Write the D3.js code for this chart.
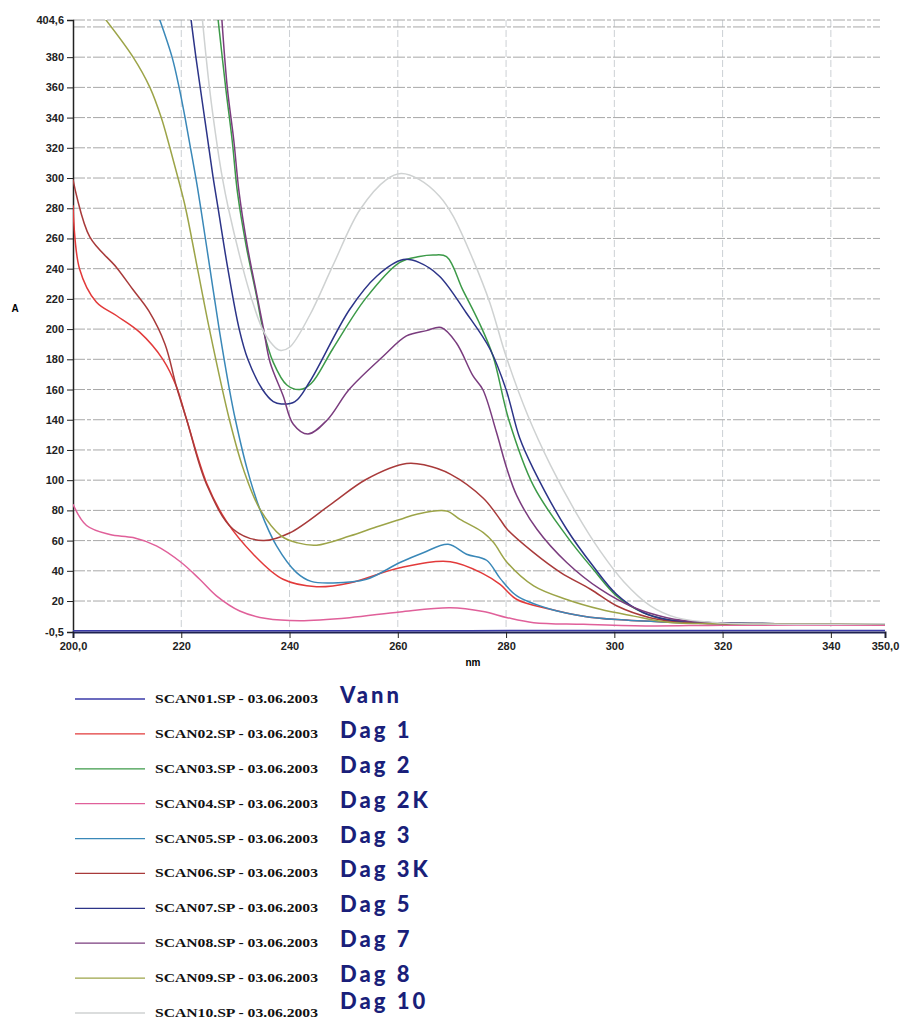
<!DOCTYPE html>
<html>
<head>
<meta charset="utf-8">
<script src="https://cdn.jsdelivr.net/npm/d3@7"></script>
<style>
  body { margin: 0; background: #fff; }
  svg { display: block; }
</style>
</head>
<body>
<script>
// spectra, [nm, A]
var vann  = [[200,0.3],[250,0.3],[300,0.5],[350,0.5]]
var dag1  = [[200,282],[201.2,240],[204.3,218],[208,209],[212.3,198],[216.6,180],[219.1,162],[221,140],[224.7,98],[228.3,73],[233.3,51],[238.8,34.4],[245,29.5],[251.1,32],[260.4,42],[269.7,46],[275.8,38],[278.9,31],[282,21],[288.2,14.6],[294.3,10],[300.5,7.7],[310,6],[320,5],[350,5]]
var dag2  = [[226.8,405],[228.2,360],[229.4,325],[230.4,290],[232,255],[233.9,222],[235.1,200],[237,178],[239.5,163],[241.9,160],[244,164],[248,187],[254,220],[260.3,244],[264,248],[266.5,249],[269,248],[272,226],[275,204.5],[277.6,182],[280.5,140],[285.1,96],[291.2,63],[296.1,41],[300.4,23.4],[305.3,12.4],[309.7,7.7],[316,6],[330,5],[350,5]]
var dag2k = [[200,84],[202.5,70],[206.8,64],[211.1,62],[215.4,56.5],[220,45.5],[223.4,34.4],[226.5,23.4],[230.8,13.4],[235.7,8.4],[241.9,7],[251.1,9],[260.4,12.8],[269.7,15.5],[275.8,13],[280.2,9],[285.1,5.7],[294.3,4.6],[306.6,3.5],[320,4],[350,4]]
var dag3  = [[216,405],[218.3,380],[219.6,360],[220.7,340],[221.7,320],[222.7,300],[223.6,280],[225.3,240],[227,200],[228.9,160],[230,140],[232.2,107],[234.6,80],[237.6,56.5],[241.3,38.8],[244,33],[248,32],[254.2,34.4],[260.4,45.5],[264.7,52],[269.3,57.6],[272.7,51],[276.4,47],[278.9,35],[282,23.4],[288.2,14.6],[294.3,10],[300.5,7.7],[310,6],[320,5],[350,5]]
var dag3k = [[200,299],[203.1,261],[208,241],[211.1,226],[214,212],[217,190],[219.1,162],[221,140],[224.7,97],[229.6,67.5],[235.1,60],[240,65],[248,85],[254.2,100.6],[261.6,111],[265,110],[269.7,104],[275.8,88],[278.9,74],[280.2,67.5],[285.1,52],[290.1,38.8],[295.6,27.8],[300.5,16.7],[306.6,9],[312.8,6],[320,5],[350,5]]
var dag5  = [[221.8,405],[222.7,380],[223.5,360],[224.3,340],[225.1,320],[225.9,300],[226.8,280],[228.6,240],[230.7,200],[232.3,180],[235,160],[237,152],[238.5,150.4],[241,152],[243.7,165],[251.1,213],[256.1,235],[261,246],[264,244],[267.7,235],[272.6,211],[277,187],[280,160],[282.5,128],[285.1,107],[291.2,67.5],[296.1,43],[300.4,24.5],[305.3,12.4],[309.7,7.7],[316,6],[330,5],[350,5]]
var dag7  = [[227.5,405],[228.5,360],[229.7,325],[230.7,290],[232.2,255],[234,222],[235.2,200],[236.4,178],[238.8,156],[240.7,137],[243.4,130.5],[247,140],[251,160],[257.3,182],[261.6,195.5],[265.3,199],[268,201],[270.8,191],[273.9,169],[275.7,160],[278.2,132],[280.2,107],[282,89.6],[285.7,67.5],[291.2,45.5],[297.4,27.8],[303.6,15.7],[309.7,9],[316,6],[330,5],[350,5]]
var dag8  = [[206,405],[211.1,380],[214.2,360],[216.3,340],[217.9,320],[219.4,300],[220.8,280],[223,240],[225.2,200],[228.9,140],[231.5,107],[234.5,81],[238.5,63],[241.5,58.5],[245,57],[251.1,63],[256,69],[260.4,74],[263.5,77.5],[269,79.6],[271.5,74],[275.8,65.3],[277.7,58.7],[280.2,45.5],[285.1,30],[291.2,21],[297.4,14.5],[303.6,10],[309.8,6],[320,5],[350,5]]
var dag10 = [[223.9,405],[225.2,360],[226.7,320],[227.6,300],[228.7,280],[231.4,240],[233,220],[235,200],[236.8,190],[238.2,186],[240,188],[243.7,209],[248,242],[253,279],[257.9,299],[260.6,303],[264,299],[267.7,288],[270.2,275],[273.9,246],[277,217.5],[280,182],[284,143],[288.2,110],[293,78],[297.4,53],[301.7,33],[306.6,17],[311.5,9],[320,5.5],[350,5]]

var scanNames = ["SCAN01.SP - 03.06.2003","SCAN02.SP - 03.06.2003","SCAN03.SP - 03.06.2003","SCAN04.SP - 03.06.2003","SCAN05.SP - 03.06.2003","SCAN06.SP - 03.06.2003","SCAN07.SP - 03.06.2003","SCAN08.SP - 03.06.2003","SCAN09.SP - 03.06.2003","SCAN10.SP - 03.06.2003"]
var notes = ["Vann","Dag 1","Dag 2","Dag 2K","Dag 3","Dag 3K","Dag 5","Dag 7","Dag 8","Dag 10"]
var palette = ["#3a3aa8","#e23a3a","#3c9a48","#e0609a","#3a88b8","#a83a3a","#2c3488","#7a3c7e","#9ca448","#cfd2d2"]
var seriesList = [vann, dag1, dag2, dag2k, dag3, dag3k, dag5, dag7, dag8, dag10]

var xTicks = [200,220,240,260,280,300,320,340,350]
var xTickLabels = ["200,0","220","240","260","280","300","320","340","350,0"]
var yTicks = [-0.5,20,40,60,80,100,120,140,160,180,200,220,240,260,280,300,320,340,360,380,404.6]
var yTickLabels = ["-0,5","20","40","60","80","100","120","140","160","180","200","220","240","260","280","300","320","340","360","380","404,6"]
var yGrid = [20,40,60,80,100,120,140,160,180,200,220,240,260,280,300,320,340,360,380,400,404.6]

var w = 903, h = 1032
var plotLeft = 73, plotRight = 885, plotTop = 20, plotBottom = 632

var svg = d3.select("body")
    .append("svg")
    .attr("width", w)
    .attr("height", h)

var xScale = d3.scaleLinear().domain([200, 350]).range([plotLeft, plotRight])
var yScale = d3.scaleLinear().domain([-0.5, 404.6]).range([plotBottom, plotTop])

// grid
svg.append("g")
    .selectAll("line")
    .data(xTicks.slice(1, -1))
    .enter()
    .append("line")
    .attr("x1", function(d) { return xScale(d) })
    .attr("x2", function(d) { return xScale(d) })
    .attr("y1", plotTop)
    .attr("y2", plotBottom)
    .attr("stroke", "#ccd0d4")
    .attr("stroke-dasharray", "7,3")

svg.append("g")
    .selectAll("line")
    .data(yGrid)
    .enter()
    .append("line")
    .attr("x1", plotLeft)
    .attr("x2", plotRight - 5)
    .attr("y1", function(d) { return yScale(d) })
    .attr("y2", function(d) { return yScale(d) })
    .attr("stroke", "#a8a8a8")
    .attr("stroke-dasharray", "12,2,4,2")

// axes
var yAxis = d3.axisLeft(yScale)
    .tickValues(yTicks)
    .tickSize(6)
    .tickPadding(3)
    .tickFormat(function(d, i) { return yTickLabels[i] })

var xAxis = d3.axisBottom(xScale)
    .tickValues(xTicks)
    .tickSize(6)
    .tickPadding(4)
    .tickFormat(function(d, i) { return xTickLabels[i] })

svg.append("g")
    .attr("class", "y axis")
    .attr("transform", "translate(" + plotLeft + ",0)")
    .call(yAxis)

svg.append("g")
    .attr("class", "x axis")
    .attr("transform", "translate(0," + plotBottom + ")")
    .call(xAxis)

svg.selectAll(".axis path").attr("stroke", "#222").attr("stroke-width", 1.5)
svg.selectAll(".x.axis path").attr("stroke", "#1e2250").attr("stroke-width", 2)
svg.selectAll(".axis line").attr("stroke", "#222")
svg.selectAll(".axis text")
    .attr("font-family", "Liberation Sans, Arial, sans-serif")
    .attr("font-weight", "bold")
    .attr("font-size", 11)
    .attr("fill", "#222")

svg.append("text")
    .attr("x", 15)
    .attr("y", 312)
    .attr("text-anchor", "middle")
    .attr("font-family", "Liberation Sans, Arial, sans-serif")
    .attr("font-weight", "bold")
    .attr("font-size", 10)
    .text("A")

svg.append("text")
    .attr("x", 473)
    .attr("y", 666)
    .attr("text-anchor", "middle")
    .attr("font-family", "Liberation Sans, Arial, sans-serif")
    .attr("font-weight", "bold")
    .attr("font-size", 10)
    .text("nm")

// curves
svg.append("clipPath")
    .attr("id", "plotclip")
    .append("rect")
    .attr("x", plotLeft)
    .attr("y", plotTop)
    .attr("width", plotRight - plotLeft)
    .attr("height", plotBottom - plotTop + 2)

var line = d3.line()
    .x(function(d) { return xScale(d[0]) })
    .y(function(d) { return yScale(d[1]) })
    .curve(d3.curveCatmullRom.alpha(0.5))

svg.append("g")
    .attr("clip-path", "url(#plotclip)")
    .selectAll("path")
    .data(seriesList)
    .enter()
    .append("path")
    .attr("d", line)
    .attr("fill", "none")
    .attr("stroke", function(d, i) { return palette[i] })
    .attr("stroke-width", 1.5)

// legend
var rowY = d3.scaleLinear().domain([0, 9]).range([699, 1013])

var legend = svg.append("g")
    .selectAll("g")
    .data(scanNames)
    .enter()
    .append("g")
    .attr("transform", function(d, i) { return "translate(0," + rowY(i) + ")" })

legend.append("line")
    .attr("x1", 75)
    .attr("x2", 145)
    .attr("stroke", function(d, i) { return palette[i] })
    .attr("stroke-width", 1.3)

legend.append("text")
    .attr("x", 155)
    .attr("y", 4)
    .attr("font-family", "Liberation Serif, Times New Roman, serif")
    .attr("font-weight", "bold")
    .attr("font-size", 13)
    .attr("textLength", 163)
    .attr("lengthAdjust", "spacingAndGlyphs")
    .attr("fill", "#111")
    .text(function(d) { return d })

legend.append("text")
    .attr("x", 340)
    .attr("y", function(d, i) { return i == 9 ? -4 : 4 })
    .attr("font-family", "Lato, DejaVu Sans, sans-serif")
    .attr("font-weight", "900")
    .attr("font-size", 22)
    .attr("letter-spacing", 3)
    .attr("fill", "#1a1f7a")
    .text(function(d, i) { return notes[i] })
</script>
</body>
</html>
